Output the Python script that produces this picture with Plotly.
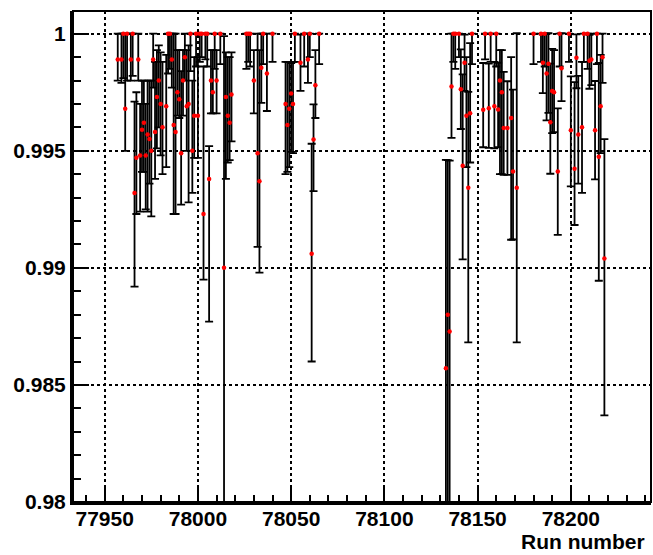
import plotly.graph_objects as go

runs = [77957, 77959, 77960, 77961, 77962, 77964, 77965, 77966, 77967, 77968,
        77969, 77970, 77971, 77972, 77973, 77974, 77975, 77976, 77977, 77978,
        77979, 77980, 77981, 77983, 77984, 77985, 77986, 77987, 77988, 77989,
        77990, 77991, 77992, 77993, 77994, 77995, 77996, 77997, 77998, 77999,
        78000, 78001, 78002, 78003, 78004, 78005, 78006, 78007, 78008, 78009,
        78010, 78012, 78014, 78015, 78016, 78017, 78018,
        78026, 78027, 78028, 78030, 78032, 78033, 78034, 78035, 78037, 78040,
        78047, 78048, 78049, 78050, 78051, 78052, 78055, 78057, 78059, 78060,
        78061, 78062, 78063, 78065,
        78133, 78134, 78135, 78136, 78137, 78138, 78140, 78141, 78142, 78143,
        78144, 78145, 78146, 78147,
        78153, 78154, 78156, 78157, 78159, 78160, 78161, 78162, 78163, 78164,
        78166, 78168, 78169, 78171, 78180,
        78184, 78185, 78186, 78187, 78188, 78189, 78190, 78191, 78193, 78194,
        78195, 78199, 78200, 78202, 78203, 78204, 78206, 78207, 78209, 78210,
        78211, 78213, 78214, 78215, 78216, 78217, 78218]

eff = [0.9989, 0.9989, 1.0000, 0.9968, 1.0000, 0.9989, 1.0000, 0.9932, 0.9947, 0.9989,
       0.9948, 0.9959, 0.9962, 0.9948, 0.9957, 0.9955, 0.9950, 0.9989, 0.9958, 0.9973,
       0.9980, 0.9970, 0.9960, 0.9969, 1.0000, 1.0000, 0.9989, 0.9961, 0.9958, 0.9975,
       0.9972, 0.9949, 0.9980, 0.9990, 0.9969, 0.9970, 1.0000, 0.9950, 0.9965, 1.0000,
       0.9965, 1.0000, 1.0000, 0.9923, 1.0000, 1.0000, 0.9938, 0.9980, 0.9975, 1.0000,
       0.9980, 1.0000, 0.9900, 0.9973, 0.9965, 0.9962, 0.9974,
       1.0000, 1.0000, 1.0000, 0.9980, 0.9949, 0.9937, 0.99855, 1.0000, 0.9983, 1.0000,
       0.9970, 0.9961, 0.9968, 0.99745, 0.9970, 1.0000, 0.99876, 1.0000, 0.9989, 1.0000,
       0.9906, 0.99548, 0.9978, 1.0000,
       0.98571, 0.9880, 0.98728, 0.99775, 1.0000, 1.0000, 1.0000, 0.99763, 0.99436, 0.99876,
       0.9965, 0.99342, 0.9966, 1.0000,
       0.99675, 1.0000, 0.99682, 1.0000, 0.9969, 1.0000, 0.99676, 0.9980, 0.9975, 0.99597,
       0.99597, 0.9964, 0.99411, 0.99342, 1.0000,
       1.0000, 0.99876, 1.0000, 0.9983, 0.99872, 0.99622, 0.99755, 0.9975, 0.99411, 1.0000,
       0.99852, 1.0000, 0.99588, 0.99423, 0.99897, 0.9957, 0.9960, 1.0000, 1.0000, 0.99885,
       0.9989, 0.99588, 1.0000, 0.99475, 0.9969, 0.9990, 0.9904]

err_low = [0.0009, 0.0010, 0.0019, 0.0018, 0.0020, 0.0009, 0.0018, 0.0040, 0.0024, 0.0009,
           0.0024, 0.0018, 0.0021, 0.0023, 0.0033, 0.0019, 0.0028, 0.0012, 0.0020, 0.0022,
           0.0020, 0.0022, 0.0020, 0.0026, 0.0017, 0.0015, 0.0012, 0.0038, 0.0035, 0.0010,
           0.0008, 0.0022, 0.0015, 0.0010, 0.0019, 0.0042, 0.0016, 0.0018, 0.0018, 0.0014,
           0.0018, 0.0012, 0.0010, 0.0028, 0.0011, 0.0014, 0.0061, 0.0014, 0.0009, 0.0015,
           0.0014, 0.0013, 0.0150, 0.0035, 0.0020, 0.0016, 0.0020,
           0.0015, 0.0012, 0.0014, 0.0014, 0.0040, 0.0039, 0.0015, 0.0013, 0.0016, 0.0012,
           0.0030, 0.0020, 0.0025, 0.0025, 0.0021, 0.0012, 0.0012, 0.0014, 0.0010, 0.0010,
           0.0046, 0.0022, 0.0014, 0.0013,
           0.0120, 0.0120, 0.0120, 0.0022, 0.0012, 0.0015, 0.0010, 0.0017, 0.0040, 0.0012,
           0.0022, 0.0066, 0.0021, 0.0013,
           0.0016, 0.0011, 0.0017, 0.0012, 0.0018, 0.0014, 0.0016, 0.0040, 0.0035, 0.0020,
           0.0020, 0.0052, 0.0029, 0.0066, 0.0013,
           0.0012, 0.0013, 0.0014, 0.0020, 0.0021, 0.0022, 0.0018, 0.0017, 0.0027, 0.0014,
           0.0014, 0.0012, 0.0024, 0.0024, 0.0013, 0.0021, 0.0028, 0.0012, 0.0015, 0.0012,
           0.0011, 0.0021, 0.0013, 0.0053, 0.0020, 0.0011, 0.0067]

err_high = [0.0011, 0.0011, 0.0, 0.0032, 0.0, 0.0011, 0.0, 0.0039, 0.0028, 0.0011,
            0.0022, 0.0021, 0.0018, 0.0022, 0.0023, 0.0025, 0.0030, 0.0011, 0.0030, 0.0020,
            0.0015, 0.0022, 0.0028, 0.0022, 0.0, 0.0, 0.0011, 0.0039, 0.0042, 0.0018,
            0.0021, 0.0035, 0.0013, 0.0010, 0.0024, 0.0025, 0.0, 0.0030, 0.0025, 0.0,
            0.0025, 0.0, 0.0, 0.0063, 0.0, 0.0, 0.0014, 0.0013, 0.0018, 0.0,
            0.0013, 0.0, 0.0099, 0.0019, 0.0025, 0.0028, 0.0018,
            0.0, 0.0, 0.0, 0.0013, 0.0051, 0.0056, 0.00145, 0.0, 0.0017, 0.0,
            0.0018, 0.0027, 0.0020, 0.0013, 0.0018, 0.0, 0.0012, 0.0, 0.0011, 0.0,
            0.0047, 0.0015, 0.0015, 0.0,
            0.0089, 0.0066, 0.0073, 0.00225, 0.0, 0.0, 0.0, 0.0017, 0.0039, 0.0012,
            0.0025, 0.0041, 0.0030, 0.0,
            0.0020, 0.0, 0.0019, 0.0, 0.0019, 0.0, 0.0020, 0.0013, 0.0018, 0.0024,
            0.0020, 0.0026, 0.0035, 0.0066, 0.0,
            0.0, 0.0012, 0.0, 0.0017, 0.0013, 0.0025, 0.0018, 0.0018, 0.0027, 0.0,
            0.0015, 0.0, 0.0023, 0.0037, 0.0010, 0.0025, 0.0028, 0.0, 0.0, 0.0011,
            0.0011, 0.0021, 0.0, 0.0040, 0.0022, 0.0010, 0.0051]

x_tick_vals = [77950, 78000, 78050, 78100, 78150, 78200]
x_tick_text = ["77950", "78000", "78050", "78100", "78150", "78200"]
y_tick_vals = [0.98, 0.985, 0.99, 0.995, 1.0]
y_tick_text = ["0.98", "0.985", "0.99", "0.995", "1"]
x_title = "Run number"

FONT = "Liberation Sans"

fig = go.Figure()
fig.add_trace(go.Scatter(
    x=runs, y=eff, mode="markers",
    marker=dict(color="red", size=4.5, line=dict(width=0)),
    error_y=dict(type="data", symmetric=False, array=err_high, arrayminus=err_low,
                 color="black", thickness=1.8, width=4),
    showlegend=False,
))

fig.update_layout(
    width=653, height=555,
    margin=dict(l=73, r=2, t=11, b=53),
    paper_bgcolor="white", plot_bgcolor="white",
    xaxis=dict(
        range=[77933, 78243], tickvals=x_tick_vals, ticktext=x_tick_text,
        automargin=False, ticklabelstandoff=-4,
        ticks="inside", ticklen=14, tickwidth=2, tickcolor="black",
        minor=dict(dtick=10, tick0=77950, ticks="inside", ticklen=7, tickwidth=2,
                   tickcolor="black", showgrid=False),
        showgrid=True, gridcolor="black", gridwidth=1.5, griddash="dot",
        showline=True, linecolor="black", linewidth=3, mirror=False,
        zeroline=False,
        tickfont=dict(family=FONT, size=21, color="black", weight="bold"),
    ),
    yaxis=dict(
        range=[0.98, 1.00097], tickvals=y_tick_vals, ticktext=y_tick_text,
        automargin=False,
        ticks="inside", ticklen=16, tickwidth=2, tickcolor="black",
        minor=dict(dtick=0.001, tick0=0.98, ticks="inside", ticklen=8, tickwidth=2,
                   tickcolor="black", showgrid=False),
        showgrid=True, gridcolor="black", gridwidth=1.5, griddash="dot",
        showline=True, linecolor="black", linewidth=3, mirror=False,
        zeroline=False,
        tickfont=dict(family=FONT, size=21, color="black", weight="bold"),
    ),
    shapes=[dict(type="rect", xref="paper", yref="paper", x0=0, x1=1, y0=0, y1=1,
                 line=dict(color="black", width=2), layer="above")],
    annotations=[dict(text=x_title, xref="paper", yref="paper", x=1.0, y=0,
                      xanchor="right", yanchor="bottom", yshift=-53, xshift=-4,
                      showarrow=False,
                      font=dict(family=FONT, size=21, color="black", weight="bold"))],
)

fig.write_html("out.html", config={"displayModeBar": False},
               post_script="document.body.style.margin='0';document.body.style.overflow='hidden';")
